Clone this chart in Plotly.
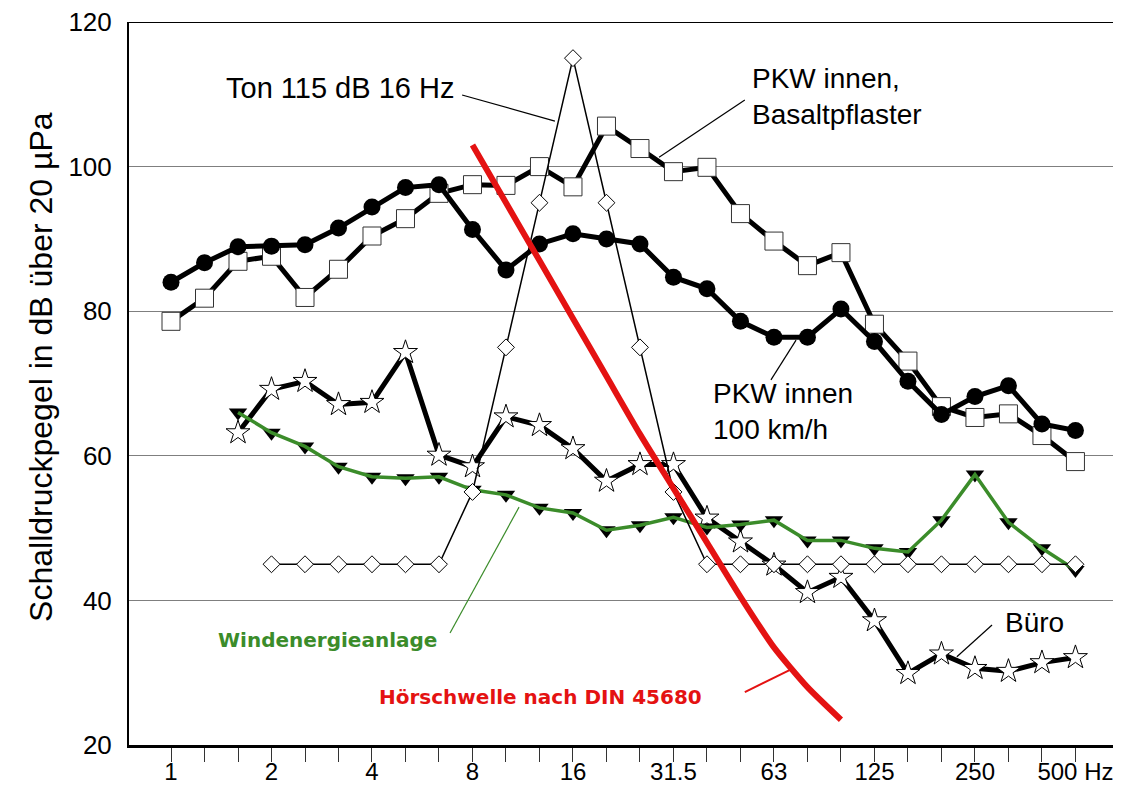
import plotly.graph_objects as go

# third-octave bands 1 Hz .. 500 Hz
bands = ["1", "1.25", "1.6", "2", "2.5", "3.15", "4", "5", "6.3", "8", "10", "12.5",
         "16", "20", "25", "31.5", "40", "50", "63", "80", "100", "125", "160",
         "200", "250", "315", "400", "500"]
tick_text = ["1", "", "", "2", "", "", "4", "", "", "8", "", "", "16", "", "",
             "31.5", "", "", "63", "", "", "125", "", "", "250", "", "", "500 Hz"]

pkw_100 = [84.0, 86.7, 88.9, 89.0, 89.2, 91.5, 94.4, 97.1, 97.5, 91.3, 85.7, 89.3,
           90.7, 90.0, 89.3, 84.7, 83.1, 78.6, 76.4, 76.4, 80.3, 75.8, 70.3, 65.7,
           68.2, 69.7, 64.4, 63.5]
pkw_basalt = [78.6, 81.8, 86.9, 87.6, 81.9, 85.8, 90.4, 92.8, 96.3, 97.5, 97.4, 100.0,
              97.2, 105.6, 102.5, 99.3, 99.9, 93.5, 89.7, 86.3, 88.1, 78.2, 73.1, 66.8,
              65.3, 65.8, 62.8, 59.2]
ton_bands = bands[3:]
ton_16hz = [45, 45, 45, 45, 45, 45, 55, 75, 95, 115, 95, 75, 55, 45, 45, 45, 45,
            45, 45, 45, 45, 45, 45, 45, 45]
buero_bands = bands[2:]
buero = [63.2, 69.2, 70.3, 67.1, 67.4, 74.3, 60.1, 58.5, 65.4, 64.2, 61.0, 56.5,
         58.8, 58.8, 51.4, 48.1, 44.9, 41.1, 43.2, 37.2, 29.9, 32.6, 30.6, 30.2,
         31.4, 32.1]
wind_bands = bands[2:]
wind = [66.0, 63.2, 61.3, 58.5, 57.1, 56.9, 57.1, 55.3, 54.6, 52.8, 52.1, 49.7,
        50.4, 51.5, 50.1, 50.5, 51.1, 48.3, 48.3, 47.2, 46.7, 51.1, 57.4, 50.8,
        47.2, 44.2]
din_bands = bands[9:21]
din_45680 = [103, 95, 87, 79, 71, 63, 55.5, 48, 40.5, 33.5, 28, 23.5]

idx = {b: i for i, b in enumerate(bands)}


def xs(labels):
    return [idx[b] for b in labels]


GREEN = "#3b8c2a"
RED = "#e41212"

fig = go.Figure()
fig.add_trace(go.Scatter(x=xs(bands), y=pkw_basalt, mode="lines+markers",
                         line=dict(color="black", width=5),
                         marker=dict(symbol="square", size=18, color="white",
                                     line=dict(color="#333", width=1))))
fig.add_trace(go.Scatter(x=xs(bands), y=pkw_100, mode="lines+markers",
                         line=dict(color="black", width=5),
                         marker=dict(symbol="circle", size=17, color="black")))
fig.add_trace(go.Scatter(x=xs(buero_bands), y=buero, mode="lines+markers",
                         line=dict(color="black", width=5),
                         marker=dict(symbol="star", size=18, color="white",
                                     line=dict(color="black", width=1))))
fig.add_trace(go.Scatter(x=xs(wind_bands), y=wind, mode="markers",
                         marker=dict(symbol="triangle-down", size=16, color="black")))
fig.add_trace(go.Scatter(x=xs(wind_bands), y=wind, mode="lines",
                         line=dict(color=GREEN, width=3.5)))
fig.add_trace(go.Scatter(x=xs(ton_bands), y=ton_16hz, mode="lines+markers",
                         line=dict(color="black", width=1.5),
                         marker=dict(symbol="diamond", size=13, color="white",
                                     line=dict(color="black", width=1))))
fig.add_trace(go.Scatter(x=xs(din_bands), y=din_45680, mode="lines",
                         line=dict(color=RED, width=6, shape="spline", smoothing=0.6)))

black_font = dict(family="Liberation Sans, Arial", size=28, color="black")
bold_font = dict(family="DejaVu Sans", size=20, weight="bold")

labels = [
    ("Ton 115 dB 16 Hz", 5.04, 110.9, "center", dict(black_font, size=29)),
    ("PKW innen,<br>Basaltpflaster", 17.28, 109.7, "left", black_font),
    ("PKW innen<br>100 km/h", 16.12, 66.1, "left", black_font),
    ("Büro", 24.84, 37.0, "left", black_font),
    ("Windenergieanlage", 4.66, 34.5, "center", dict(bold_font, color=GREEN)),
    ("Hörschwelle nach DIN 45680", 11.04, 26.6, "center", dict(bold_font, color=RED)),
]
for text, x, y, anchor, font in labels:
    fig.add_annotation(x=x, y=y, text=text, showarrow=False, xanchor=anchor,
                       yanchor="middle", align="left", font=font)

leaders = [
    (8.69, 109.9, 11.46, 106.3, "black"),
    (17.13, 109.2, 14.57, 101.3, "black"),
    (18.66, 76.0, 17.91, 70.5, "black"),
    (24.51, 36.6, 23.46, 32.2, "black"),
    (8.33, 35.5, 10.39, 52.9, GREEN),
    (17.13, 27.3, 18.48, 30.4, RED),
]
for x0, y0, x1, y1, c in leaders:
    fig.add_shape(type="line", x0=x0, y0=y0, x1=x1, y1=y1,
                  line=dict(color=c, width=1.2 if c != RED else 2))

# top frame line
fig.add_shape(type="line", xref="paper", x0=0, x1=1, y0=120, y1=120,
              line=dict(color="black", width=2))

fig.add_annotation(text="Schalldruckpegel in dB über 20 µPa", xref="paper", yref="paper",
                   x=-0.0887, y=0.523, xanchor="center", yanchor="middle",
                   textangle=-90, showarrow=False,
                   font=dict(family="Liberation Sans, Arial", size=32, color="black"))

# page body has an 8 px margin, so the figure is 8 px smaller and shifted
fig.update_layout(
    width=1113, height=790,
    margin=dict(l=121, r=0, t=14, b=53),
    plot_bgcolor="white", paper_bgcolor="white",
    showlegend=False,
    font=dict(family="Liberation Sans, Arial", size=24, color="black"),
)
fig.update_xaxes(range=[-1.254, 28.36], tickvals=list(range(len(bands))),
                 ticktext=tick_text, ticks="outside", ticklen=14, tickwidth=1,
                 tickcolor="#333", showgrid=False, zeroline=False,
                 showline=True, linecolor="black", linewidth=3,
                 ticklabelstandoff=-11, tickfont=dict(size=24))
fig.update_yaxes(range=[20, 120], tickvals=[20, 40, 60, 80, 100, 120],
                 showgrid=True, gridcolor="#7f7f7f", gridwidth=1, zeroline=False,
                 showline=True, linecolor="black", linewidth=2,
                 ticks="outside", ticklen=10, tickcolor="rgba(0,0,0,0)",
                 ticklabeloverflow="allow", tickfont=dict(size=26))

fig.write_html("out.html")
